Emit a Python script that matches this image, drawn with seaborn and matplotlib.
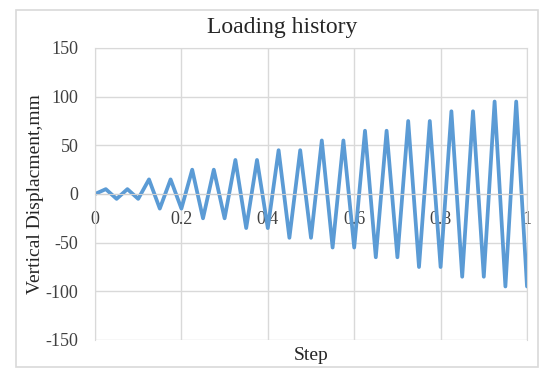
import matplotlib
matplotlib.use("Agg")
import matplotlib.pyplot as plt
import seaborn as sns
from matplotlib.patches import Rectangle

# Data
step = [0.000, 0.025, 0.050, 0.075, 0.100, 0.125, 0.150, 0.175, 0.200, 0.225,
        0.250, 0.275, 0.300, 0.325, 0.350, 0.375, 0.400, 0.425, 0.450, 0.475,
        0.500, 0.525, 0.550, 0.575, 0.600, 0.625, 0.650, 0.675, 0.700, 0.725,
        0.750, 0.775, 0.800, 0.825, 0.850, 0.875, 0.900, 0.925, 0.950, 0.975,
        1.000]
displacement = [0, 5, -5, 5, -5, 15, -15, 15, -15, 25,
                -25, 25, -25, 35, -35, 35, -35, 45, -45, 45,
                -45, 55, -55, 55, -55, 65, -65, 65, -65, 75,
                -75, 75, -75, 85, -85, 85, -85, 95, -95, 95,
                -95]
x_ticks = [0, 0.2, 0.4, 0.6, 0.8, 1]
x_tick_labels = ["0", "0.2", "0.4", "0.6", "0.8", "1"]
y_ticks = [-150, -100, -50, 0, 50, 100, 150]
y_tick_labels = ["-150", "-100", "-50", "0", "50", "100", "150"]

sns.set_style("white")
plt.rcParams['font.family'] = ['Liberation Serif', 'DejaVu Serif']

W, H = 546, 369
fig = plt.figure(figsize=(W / 100, H / 100), dpi=100)

# chart frame
fig.patches.append(Rectangle((16 / W, 1 - 367 / H), (538 - 16) / W, (367 - 10) / H,
                             transform=fig.transFigure, fill=False,
                             edgecolor='#D9D9D9', lw=1.2))

left, right, top, bottom = 95, 527, 48, 340
ax = fig.add_axes([left / W, 1 - bottom / H, (right - left) / W, (bottom - top) / H])

sns.lineplot(x=step, y=displacement, ax=ax, color='#5B9BD5', lw=2.7)

ax.set_xlim(0, 1)
ax.set_ylim(-150, 150)
ax.set_xticks(x_ticks)
ax.set_xticklabels(x_tick_labels)
ax.set_yticks(y_ticks)
ax.set_yticklabels(y_tick_labels)
ax.grid(True, color='#D9D9D9', lw=1.0)
for s in ['top', 'right', 'left']:
    ax.spines[s].set_color('#D9D9D9')
ax.spines['bottom'].set_position(('data', 0))
ax.spines['bottom'].set_color('#D0D0D0')
ax.tick_params(axis='x', length=0, pad=12, labelsize=13, colors='#404040')
ax.tick_params(axis='y', length=0, pad=12, labelsize=13, colors='#404040')
ax.set_axisbelow(True)

ax.set_ylabel("Vertical Displacment,mm", fontsize=14, color='#262626')
ax.yaxis.set_label_coords(-(left - 44) / (right - left), 0.5)

fig.text(311 / W, 1 - 355 / H, "Step", ha='center', va='center',
         fontsize=14, color='#262626')
fig.text(282 / W, 1 - 28 / H, "Loading history", ha='center', va='center',
         fontsize=17, color='#262626')

fig.savefig("out.png", dpi=100)
